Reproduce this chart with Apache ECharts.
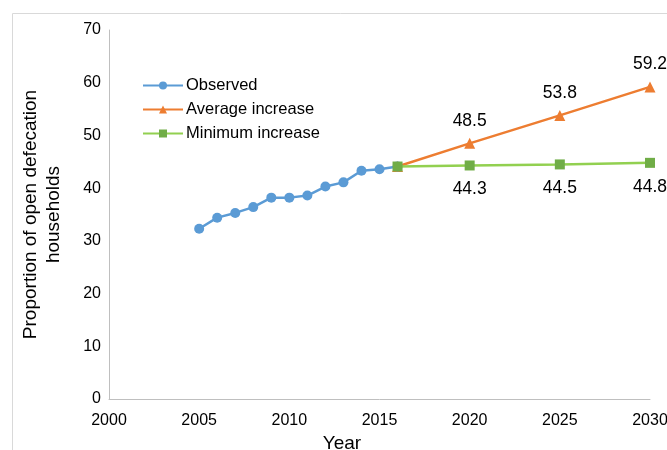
<!DOCTYPE html>
<html>
<head>
<meta charset="utf-8">
<script src="https://cdn.jsdelivr.net/npm/echarts@6/dist/echarts.min.js"></script>
<style>
  html, body { margin: 0; padding: 0; background: #fff; }
  #chart { width: 667px; height: 450px; }
</style>
</head>
<body>
<div id="chart"></div>
<script>
var chart = echarts.init(document.getElementById('chart'));

// data
var obsYears = [2005, 2006, 2007, 2008, 2009, 2010, 2011, 2012, 2013, 2014, 2015, 2016];
var obsValues = [32.3, 34.4, 35.3, 36.4, 38.2, 38.2, 38.6, 40.3, 41.1, 43.3, 43.6, 44.1];
var projYears = [2016, 2020, 2025, 2030];
var avgValues = [44.1, 48.5, 53.8, 59.2];
var minValues = [44.1, 44.3, 44.5, 44.8];
var xTicks = [2000, 2005, 2010, 2015, 2020, 2025, 2030];

function pairs(xs, ys) {
    var out = [];
    for (var i = 0; i < xs.length; i++) out.push([xs[i], ys[i]]);
    return out;
}

// only the projected years get a label, not the start point
function projLabel(p) {
    return p.dataIndex === 0 ? '' : p.value[1].toFixed(1);
}

var font = 'Liberation Sans, Arial, sans-serif';

var option = {
    animation: false,
    textStyle: { fontFamily: font },
    graphic: [{
        type: 'rect',
        left: 10, top: 11,
        shape: { width: 700, height: 500 },
        style: { fill: 'none', stroke: '#d9d9d9', lineWidth: 1 },
        silent: true
    }],
    grid: { left: 109, top: 30, right: 17, bottom: 51, outerBoundsMode: 'none' },
    legend: {
        orient: 'vertical',
        left: 137,
        top: 72,
        itemGap: 7,
        itemWidth: 40,
        itemHeight: 10,
        textStyle: { fontSize: 16.5, color: '#000', fontFamily: font, padding: [0, 0, 0, -2] },
        data: ['Observed', 'Average increase', 'Minimum increase']
    },
    xAxis: {
        type: 'value',
        min: xTicks[0],
        max: xTicks[xTicks.length - 1],
        interval: 5,
        name: 'Year',
        nameLocation: 'middle',
        nameGap: 33,
        nameTextStyle: { fontSize: 19, color: '#000', padding: [0, 75, 0, 0] },
        axisLine: { lineStyle: { color: '#bfbfbf', width: 1 } },
        axisTick: { show: false },
        splitLine: { show: false },
        axisLabel: {
            color: '#000', fontSize: 16, margin: 14,
            formatter: function (v) { return String(v); }
        }
    },
    yAxis: {
        type: 'value',
        min: 0,
        max: 70,
        interval: 10,
        name: 'Proportion of open defecation\nhouseholds',
        nameLocation: 'middle',
        nameGap: 44,
        nameTextStyle: { fontSize: 19, color: '#000', lineHeight: 23 },
        axisLine: { show: true, lineStyle: { color: '#bfbfbf', width: 1 } },
        axisTick: { show: false },
        splitLine: { show: false },
        axisLabel: { color: '#000', fontSize: 16, margin: 8 }
    },
    series: [
        {
            name: 'Average increase',
            type: 'line',
            data: pairs(projYears, avgValues),
            symbol: 'triangle',
            symbolSize: 11,
            itemStyle: { color: '#ed7d31' },
            lineStyle: { color: '#ed7d31', width: 2.5 },
            label: {
                show: true, position: 'top', distance: 8,
                fontSize: 17.5, color: '#000', formatter: projLabel
            },
            z: 2
        },
        {
            name: 'Minimum increase',
            type: 'line',
            data: pairs(projYears, minValues),
            symbol: 'rect',
            symbolSize: 10,
            itemStyle: { color: '#70ad47' },
            lineStyle: { color: '#92d050', width: 2.5 },
            label: {
                show: true, position: 'bottom', distance: 10,
                fontSize: 17.5, color: '#000', formatter: projLabel
            },
            z: 4
        },
        {
            name: 'Observed',
            type: 'line',
            data: pairs(obsYears, obsValues),
            symbol: 'circle',
            symbolSize: 10,
            itemStyle: { color: '#5b9bd5' },
            lineStyle: { color: '#5b9bd5', width: 2.5 },
            z: 3
        }
    ]
};

chart.setOption(option);
</script>
</body>
</html>
